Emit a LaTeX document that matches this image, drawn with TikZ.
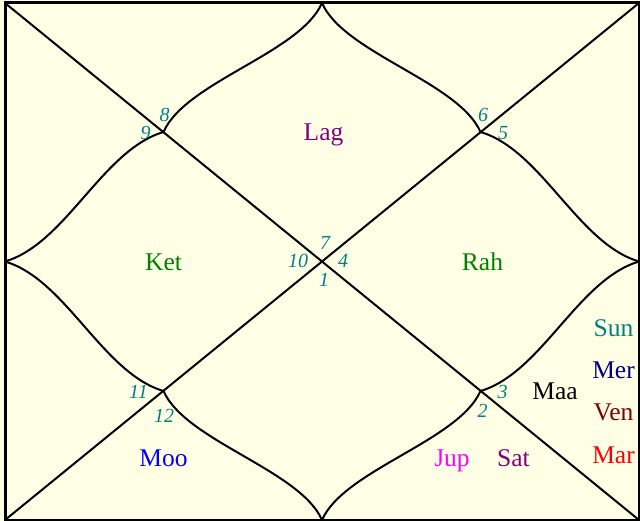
\documentclass[tikz,border=0pt]{standalone}
\usepackage{fontspec}
\setmainfont{Liberation Serif}
\definecolor{bgcream}{HTML}{FFFFE6}
\definecolor{numteal}{HTML}{008080}
\definecolor{cpurple}{HTML}{800080}
\definecolor{cgreen}{HTML}{008000}
\definecolor{cblue}{HTML}{0000FF}
\definecolor{cmagenta}{HTML}{FF00FF}
\definecolor{cnavy}{HTML}{000080}
\definecolor{cmaroon}{HTML}{800000}
\definecolor{cred}{HTML}{FF0000}
\tikzset{
  planet/.style={anchor=base, inner sep=0pt, font=\fontsize{25.5}{30}\selectfont},
  housenum/.style={anchor=base, inner sep=0pt, text=numteal, font=\fontsize{20}{24}\selectfont\itshape},
  chartline/.style={line width=2pt, black},
  frameline/.style={line width=3pt, black}
}
\begin{document}
\begin{tikzpicture}[x=1pt,y=-1pt]
\fill[bgcream] (0,0) rectangle (640,521);
\useasboundingbox (0,0) rectangle (640,521);
% key points
\coordinate (TL) at (5,3);
\coordinate (TR) at (639,3);
\coordinate (BL) at (5,520);
\coordinate (BR) at (639,520);
\coordinate (T) at (322,3);
\coordinate (B) at (322,520);
\coordinate (L) at (5,261.5);
\coordinate (R) at (639,261.5);
\coordinate (Qtl) at (163.5,132);
\coordinate (Qtr) at (480.5,132);
\coordinate (Qbl) at (163.5,391);
\coordinate (Qbr) at (480.5,391);
% diagonals
\draw[chartline] (TL) -- (BR);
\draw[chartline] (TR) -- (BL);
% curves
\draw[chartline] (T) .. controls +(-22,50) and +(22,-50) .. (Qtl);
\draw[chartline] (T) .. controls +(22,50) and +(-22,-50) .. (Qtr);
\draw[chartline] (B) .. controls +(-22,-50) and +(22,50) .. (Qbl);
\draw[chartline] (B) .. controls +(22,-50) and +(-22,50) .. (Qbr);
\draw[chartline] (L) .. controls +(61,-18) and +(-61,18) .. (Qtl);
\draw[chartline] (L) .. controls +(61,18) and +(-61,-18) .. (Qbl);
\draw[chartline] (R) .. controls +(-61,-18) and +(61,18) .. (Qtr);
\draw[chartline] (R) .. controls +(-61,18) and +(61,-18) .. (Qbr);
% frame
\draw[frameline] (TL) rectangle (BR);
% house numbers
\node[housenum] (n8) at (164.5,122) {8};
\node[housenum] (n9) at (145.5,140) {9};
\node[housenum] (n6) at (483,122) {6};
\node[housenum] (n5) at (503,140) {5};
\node[housenum] (n7) at (325,250) {7};
\node[housenum] (n10) at (298,268) {10};
\node[housenum] (n4) at (343,268) {4};
\node[housenum] (n1) at (324,287) {1};
\node[housenum] (n11) at (138.5,398) {11};
\node[housenum] (n12) at (164,422) {12};
\node[housenum] (n3) at (502.5,398) {3};
\node[housenum] (n2) at (482.5,417) {2};
% planets
\node[planet, text=cpurple] (lag) at (323.5,141) {Lag};
\node[planet, text=cgreen] (ket) at (163.5,271) {Ket};
\node[planet, text=cgreen] (rah) at (482.5,271) {Rah};
\node[planet, text=cblue] (moo) at (163.5,466) {Moo};
\node[planet, text=cmagenta] (jup) at (452,466) {Jup};
\node[planet, text=cpurple] (sat) at (513.5,466) {Sat};
\node[planet, text=black] (maa) at (555,399) {Maa};
\node[planet, text=numteal] (sun) at (613.5,337) {Sun};
\node[planet, text=cnavy] (mer) at (613.5,378) {Mer};
\node[planet, text=cmaroon] (ven) at (613.5,420) {Ven};
\node[planet, text=cred] (mar) at (613.5,463) {Mar};
\end{tikzpicture}
\end{document}
